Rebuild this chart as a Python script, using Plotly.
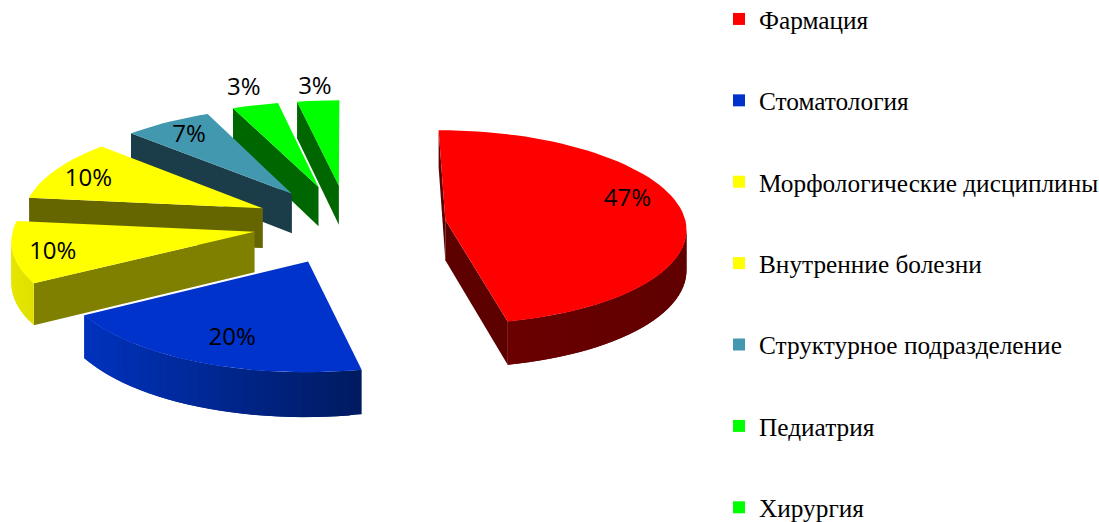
import math
import plotly.graph_objects as go

categories = ["Фармация", "Стоматология", "Морфологические дисциплины",
              "Внутренние болезни", "Структурное подразделение", "Педиатрия", "Хирургия"]
values = [46.6, 20, 10.2, 10.2, 6.5, 3.4, 3.1]
labels = ["47%", "20%", "10%", "10%", "7%", "3%", "3%"]

top_colors = ["#FF0000", "#0033CC", "#FFFF00", "#FFFF00", "#4198AF", "#00FF00", "#00FF00"]
inner_colors = ["#5C0000", "#001F7A", "#808000", "#666600", "#1B3D4A", "#006600", "#006600"]
rim_left = ["#6E0000", "#0032BE", "#E6E600", "#E0E000", "#2A6070", "#00A000", "#00A000"]
rim_right = ["#600000", "#001A60", "#E0E000", "#D0D000", "#2A6070", "#00A000", "#00A000"]
label_r = [0.81, 0.76, 0.84, 0.82, 0.81, 1.22, 1.17]
label_turn = [-10, -2, -2, -2.4, -0.3, 0.3, 0]
pulls = [0.39, 0.41, 0.39, 0.39, 0.39, 0.41, 0.41]
nudges = [0.022, 0.008, 0, 0, -0.01, 0, 0.005]
draw_order = [6, 5, 4, 1, 3, 2, 0]

# perspective camera, in pixels of the page
VX, HORIZON, FX, FY, DEPTH, THICK, LABEL_DY = 347, -1101, 3288, 18100, 13.66, 550, 1
# the figure overhangs the window a little so the legend can reach its edges
OVER_X, OVER_Y = 7, 4


def project(x, y, bottom=False):
    t = DEPTH + y
    return VX + FX * x / t, HORIZON + (FY + (THICK if bottom else 0)) / t


def lerp(a, b, f):
    ca = [int(a[i:i + 2], 16) for i in (1, 3, 5)]
    cb = [int(b[i:i + 2], 16) for i in (1, 3, 5)]
    return "#%02X%02X%02X" % tuple(round(p + (q - p) * f) for p, q in zip(ca, cb))


def area(pts):
    return sum(pts[i][0] * pts[(i + 1) % len(pts)][1] - pts[(i + 1) % len(pts)][0] * pts[i][1]
               for i in range(len(pts))) / 2


def poly(pts, color):
    return go.Scatter(x=[p[0] for p in pts] + [pts[0][0]], y=[p[1] for p in pts] + [pts[0][1]],
                      mode="lines", fill="toself", fillcolor=color,
                      line=dict(color=color, width=0), hoverinfo="skip", showlegend=False)


total = sum(values)
starts = []
acc = 0.0
for v in values:
    starts.append(acc)
    acc += v / total * 360

fig = go.Figure()
label_x, label_y = [None] * len(values), [None] * len(values)

for i in draw_order:
    a0 = starts[i]
    sweep = values[i] / total * 360
    mid = math.radians(a0 + sweep / 2)
    ax, ay = pulls[i] * math.sin(mid) + nudges[i], pulls[i] * math.cos(mid)
    n = max(4, int(sweep / 2.5))
    world = [(ax + math.sin(math.radians(a0 + sweep * k / n)),
              ay + math.cos(math.radians(a0 + sweep * k / n))) for k in range(n + 1)]
    outline = [(ax, ay)] + world
    top = [project(*p) for p in outline]
    sign = area(top)
    m = len(outline)
    xs = [p[0] for p in top[1:]]
    for k in range(m):
        p, q = outline[k], outline[(k + 1) % m]
        quad = [project(*p), project(*q), project(*q, True), project(*p, True)]
        if area(quad) * sign >= 0:
            continue
        if k == 0 or k == m - 1:
            color = inner_colors[i]
        else:
            f = ((quad[0][0] + quad[1][0]) / 2 - min(xs)) / max(1e-6, max(xs) - min(xs))
            color = lerp(rim_left[i], rim_right[i], f)
            if k + 2 < m:  # overlap the next strip so that no seam shows
                r = outline[k + 2]
                quad = [project(*p), project(*q), project(*r), project(*r, True),
                        project(*q, True), project(*p, True)]
        fig.add_trace(poly(quad, color))
    fig.add_trace(poly(top, top_colors[i]))
    la = mid + math.radians(label_turn[i])
    label_x[i], ly = project(ax + label_r[i] * math.sin(la), ay + label_r[i] * math.cos(la))
    label_y[i] = ly + LABEL_DY

fig.add_trace(go.Scatter(x=label_x, y=label_y, mode="text", text=labels,
                         textposition="middle center", hoverinfo="skip", showlegend=False,
                         textfont=dict(family="Open Sans", size=24, color="#000000")))

for i, name in enumerate(categories):
    fig.add_trace(go.Scatter(x=[None], y=[None], mode="markers", name=name, legendgroup=name,
                             marker=dict(symbol="square", size=13, color=top_colors[i])))

W, H = 1099 + OVER_X, 522 + OVER_Y
fig.update_layout(
    width=W, height=H, margin=dict(l=0, r=0, t=0, b=0),
    paper_bgcolor="#FFFFFF", plot_bgcolor="#FFFFFF",
    xaxis=dict(range=[0, W], visible=False, fixedrange=True),
    yaxis=dict(range=[522, -OVER_Y], visible=False, fixedrange=True),
    legend=dict(x=719 / W, xanchor="left", y=1, yanchor="top", traceorder="grouped",
                tracegroupgap=45.5, itemsizing="constant", bgcolor="rgba(0,0,0,0)", maxheight=600,
                font=dict(family="Liberation Serif", size=25.3, color="#000000")),
)
fig.write_html("out.html",
               post_script="document.body.style.margin='-%dpx 0 0 0';"
                           "document.documentElement.style.overflow='hidden';" % OVER_Y,
               config={"displayModeBar": False})
